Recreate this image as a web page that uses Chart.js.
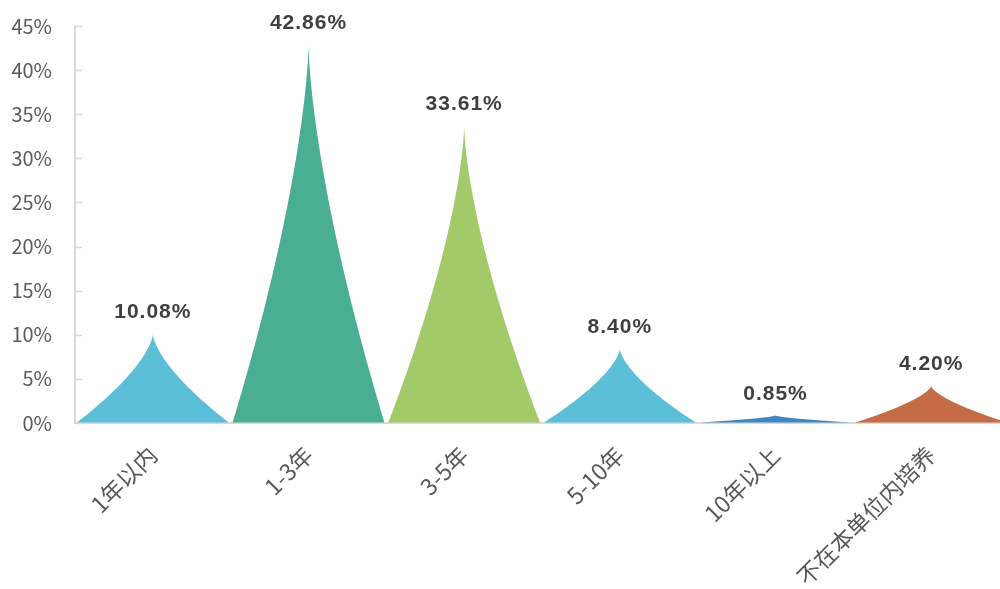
<!DOCTYPE html>
<html>
<head>
<meta charset="utf-8">
<script src="https://cdn.jsdelivr.net/npm/chart.js@4.4.1/dist/chart.umd.min.js"></script>
<style>
  html, body { margin: 0; padding: 0; background: #fff; }
  #frame { width: 1000px; height: 589px; overflow: hidden; position: relative; }
  #wrap { width: 1010px; height: 589px; position: absolute; left: 0; top: 0; }
</style>
</head>
<body>
<div id="frame">
  <div id="wrap"><canvas id="peakChart"></canvas></div>
</div>
<script>
// ── DATA ──
const categories = ['1年以内', '1-3年', '3-5年', '5-10年', '10年以上', '不在本单位内培养'];
const shares     = [10.08, 42.86, 33.61, 8.40, 0.85, 4.20];
const peakColors = ['#5bbfd8', '#4aae93', '#a2ca68', '#5bbfd8', '#3e86bf', '#c56c47'];
const yMax = 45;
const yStep = 5;

// ── PLUGINS ──
// draws each bar as a concave "peak" using the bar element geometry
const peakPlugin = {
  id: 'peaks',
  afterDatasetsDraw(chart) {
    const ctx = chart.ctx;
    const meta = chart.getDatasetMeta(0);
    meta.data.forEach((el, i) => {
      const cx = el.x, top = el.y, base = el.base, hw = el.width / 2;
      const h = base - top;
      const steps = 60;
      ctx.save();
      ctx.beginPath();
      ctx.moveTo(cx - hw, base);
      for (let s = 1; s <= steps; s++) {
        const f = s / steps;
        ctx.lineTo(cx - hw * Math.pow(1 - f, 1.5), base - f * h);
      }
      for (let s = steps - 1; s >= 0; s--) {
        const f = s / steps;
        ctx.lineTo(cx + hw * Math.pow(1 - f, 1.5), base - f * h);
      }
      ctx.closePath();
      ctx.fillStyle = peakColors[i];
      ctx.fill();

      // value label
      ctx.font = 'bold 21px "Liberation Sans", Arial, sans-serif';
      if ('letterSpacing' in ctx) ctx.letterSpacing = '1px';
      ctx.fillStyle = '#404040';
      ctx.textAlign = 'center';
      ctx.textBaseline = 'alphabetic';
      ctx.fillText(shares[i].toFixed(2) + '%', cx, top - 16);
      ctx.restore();
    });
  }
};

// short tick marks pointing into the plot area
const innerTicks = {
  id: 'innerTicks',
  afterDraw(chart) {
    const { ctx, chartArea, scales: { y } } = chart;
    ctx.save();
    ctx.strokeStyle = '#d9d9d9';
    ctx.lineWidth = 1.5;
    y.ticks.forEach(t => {
      const py = Math.round(y.getPixelForValue(t.value)) + 0.5;
      ctx.beginPath();
      ctx.moveTo(chartArea.left, py);
      ctx.lineTo(chartArea.left + 7, py);
      ctx.stroke();
    });
    ctx.restore();
  }
};

// ── CHART ──
new Chart(document.getElementById('peakChart'), {
  type: 'bar',
  data: {
    labels: categories,
    datasets: [{
      data: shares,
      backgroundColor: 'rgba(0,0,0,0)',
      borderWidth: 0,
      barPercentage: 1,
      categoryPercentage: 0.975
    }]
  },
  options: {
    responsive: true,
    maintainAspectRatio: false,
    animation: false,
    layout: { padding: { top: 26, right: 1, left: 0, bottom: 0 } },
    plugins: {
      legend: { display: false },
      tooltip: { enabled: false }
    },
    scales: {
      x: {
        grid: { display: false, drawTicks: false },
        border: { display: true, color: '#d9d9d9', width: 2 },
        ticks: {
          color: '#595959',
          font: { family: '"Noto Sans CJK SC", sans-serif', size: 23 },
          minRotation: 45,
          maxRotation: 45,
          padding: 18,
          autoSkip: false
        },
        afterFit: s => { s.height = 166; }
      },
      y: {
        min: 0,
        max: yMax,
        // invisible outer ticks just to push the labels away from the axis
        grid: { display: true, drawOnChartArea: false, drawTicks: true, tickLength: 23, tickColor: 'rgba(0,0,0,0)' },
        border: { display: true, color: '#d9d9d9', width: 2 },
        ticks: {
          stepSize: yStep,
          color: '#595959',
          font: { family: '"Noto Sans CJK SC", sans-serif', size: 20 },
          padding: 0,
          callback: v => v + '%'
        },
        afterFit: s => { s.width = 75; }
      }
    }
  },
  plugins: [peakPlugin, innerTicks]
});
</script>
</body>
</html>
